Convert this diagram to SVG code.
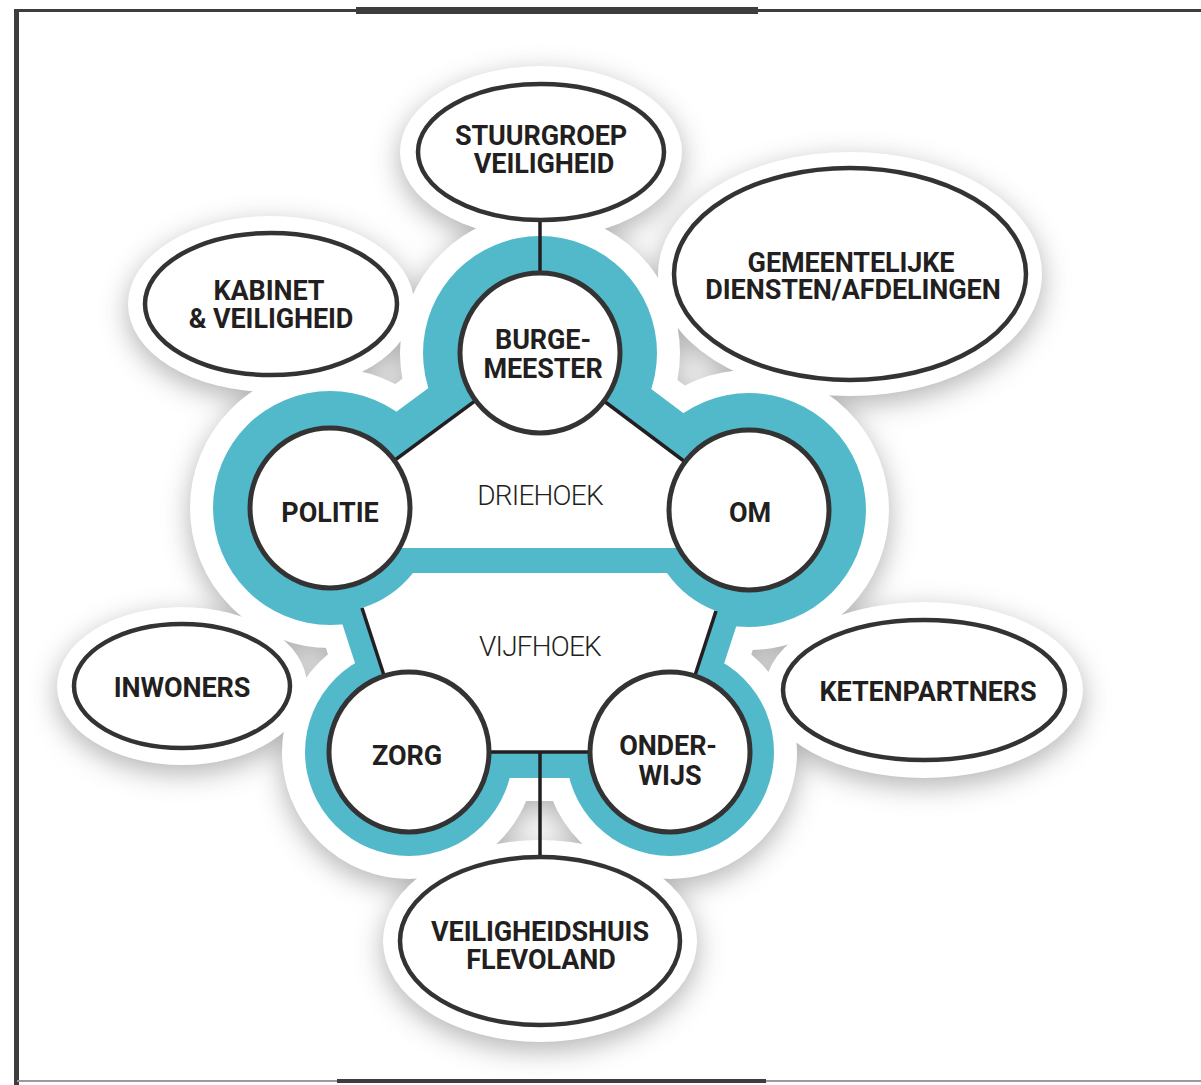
<svg xmlns="http://www.w3.org/2000/svg" xmlns:xlink="http://www.w3.org/1999/xlink" width="1201" height="1085" viewBox="0 0 1201 1085">
<style>
.lbl{font-family:Roboto,"Liberation Sans",sans-serif;font-weight:700;font-size:27px;fill:#231f20;text-anchor:middle;letter-spacing:-0.1px}
.thin{font-family:Roboto,"Liberation Sans",sans-serif;font-weight:300;font-size:28px;fill:#231f20;text-anchor:middle;letter-spacing:-0.8px}
.circ{fill:#fff;stroke:#333;stroke-width:5}
.ell{fill:#fff;stroke:#333;stroke-width:4.5}
.con{stroke:#231f20;stroke-width:3.5;fill:none}
</style>
<defs>
<filter id="sh" x="-30%" y="-30%" width="160%" height="160%">
<feGaussianBlur stdDeviation="14"/>
<feOffset dy="8"/>
</filter>
<g id="teal">
<circle cx="540" cy="353" r="117"/>
<circle cx="330" cy="508" r="117"/>
<circle cx="749" cy="510" r="117"/>
<circle cx="409" cy="752" r="104"/>
<circle cx="670" cy="752" r="104"/>
<polygon points="540,353 330,508 307.4,477.4 517.4,322.4"/>
<polygon points="540,353 749,510 771.8,479.6 562.8,322.6"/>
<polygon points="330,508 409,752 386.2,759.4 307.2,515.4"/>
<polygon points="749,510 670,752 692.8,759.4 771.8,517.4"/>
<polygon points="409,752 670,752 670,778 409,778"/>
<polygon points="540,353 749,510 670,752 409,752 330,508"/>
</g>
<g id="halos">
<ellipse cx="541" cy="152" rx="141" ry="86"/>
<ellipse cx="271" cy="304" rx="143" ry="88"/>
<ellipse cx="850" cy="274" rx="192" ry="122"/>
<ellipse cx="182" cy="686" rx="125" ry="79"/>
<ellipse cx="924" cy="690" rx="159" ry="88"/>
<ellipse cx="540" cy="941" rx="157" ry="101"/>
</g>
</defs>
<rect width="1201" height="1085" fill="#fff"/>
<g id="shadow" filter="url(#sh)" opacity="0.5">
<use xlink:href="#teal" fill="#666" stroke="#666" stroke-width="46" stroke-linejoin="round"/>
<use xlink:href="#halos" fill="#666"/>
</g>
<g id="halo">
<use xlink:href="#teal" fill="#fff" stroke="#fff" stroke-width="46" stroke-linejoin="round"/>
<use xlink:href="#halos" fill="#fff"/>
</g>
<g id="band">
<use xlink:href="#teal" fill="#52b9ca"/>
<polygon id="driehoek-area" points="540,353 330,508 330,548 749,548 749,510" fill="#fff"/>
<path id="vijfhoek-area" d="M413,573 L667,573 A106,106 0 0 0 716,611 L670,752 L409,752 L362,608 A106,106 0 0 0 413,573 Z" fill="#fff"/>
</g>
<g id="connectors">
<line class="con" x1="540" y1="353" x2="330" y2="508"/>
<line class="con" x1="540" y1="353" x2="749" y2="510"/>
<line class="con" x1="362" y1="608" x2="409" y2="752"/>
<line class="con" x1="716" y1="611" x2="670" y2="752"/>
<line class="con" x1="409" y1="752" x2="670" y2="752"/>
<line class="con" x1="540" y1="752" x2="540" y2="858"/>
<line class="con" x1="540" y1="218" x2="540" y2="274"/>
</g>
<text class="thin" x="540" y="505">DRIEHOEK</text>
<text class="thin" x="540" y="656">VIJFHOEK</text>
<g id="stuurgroep"><ellipse class="ell" cx="541" cy="152" rx="123" ry="68"/><text class="lbl" x="541" y="145">STUURGROEP</text><text class="lbl" x="544" y="173">VEILIGHEID</text></g>
<g id="kabinet"><ellipse class="ell" cx="271" cy="304" rx="126" ry="71"/><text class="lbl" x="269" y="300">KABINET</text><text class="lbl" x="271" y="328">&amp; VEILIGHEID</text></g>
<g id="gemeentelijk"><ellipse class="ell" cx="850" cy="274" rx="176" ry="106"/><text class="lbl" x="851" y="272">GEMEENTELIJKE</text><text class="lbl" x="853" y="299">DIENSTEN/AFDELINGEN</text></g>
<g id="inwoners"><ellipse class="ell" cx="182" cy="686" rx="108" ry="62"/><text class="lbl" x="182" y="697">INWONERS</text></g>
<g id="ketenpartners"><ellipse class="ell" cx="924" cy="690" rx="141" ry="70"/><text class="lbl" x="928" y="701">KETENPARTNERS</text></g>
<g id="veiligheidshuis"><ellipse class="ell" cx="540" cy="941" rx="140" ry="84"/><text class="lbl" x="540" y="941">VEILIGHEIDSHUIS</text><text class="lbl" x="541" y="969">FLEVOLAND</text></g>
<g id="burgemeester"><circle class="circ" cx="540" cy="353" r="80"/><text class="lbl" x="543" y="349">BURGE-</text><text class="lbl" x="543" y="378">MEESTER</text></g>
<g id="politie"><circle class="circ" cx="330" cy="508" r="80"/><text class="lbl" x="330" y="522">POLITIE</text></g>
<g id="om"><circle class="circ" cx="749" cy="510" r="80"/><text class="lbl" x="750" y="522">OM</text></g>
<g id="zorg"><circle class="circ" cx="409" cy="752" r="80"/><text class="lbl" x="407" y="765">ZORG</text></g>
<g id="onderwijs"><circle class="circ" cx="670" cy="752" r="80"/><text class="lbl" x="668" y="755">ONDER-</text><text class="lbl" x="670" y="785">WIJS</text></g>
<g id="frame">
<line x1="15" y1="10.5" x2="1201" y2="10.5" stroke="#3d3d3d" stroke-width="3"/>
<rect x="356" y="7" width="402" height="7" fill="#3d3d3d"/>
<rect x="14" y="9" width="5" height="1076" fill="#3d3d3d"/>
<line x1="17" y1="1081" x2="1201" y2="1081" stroke="#9a9a9a" stroke-width="2"/>
<rect x="337" y="1079" width="429" height="4" fill="#3d3d3d"/>
</g>
</svg>
